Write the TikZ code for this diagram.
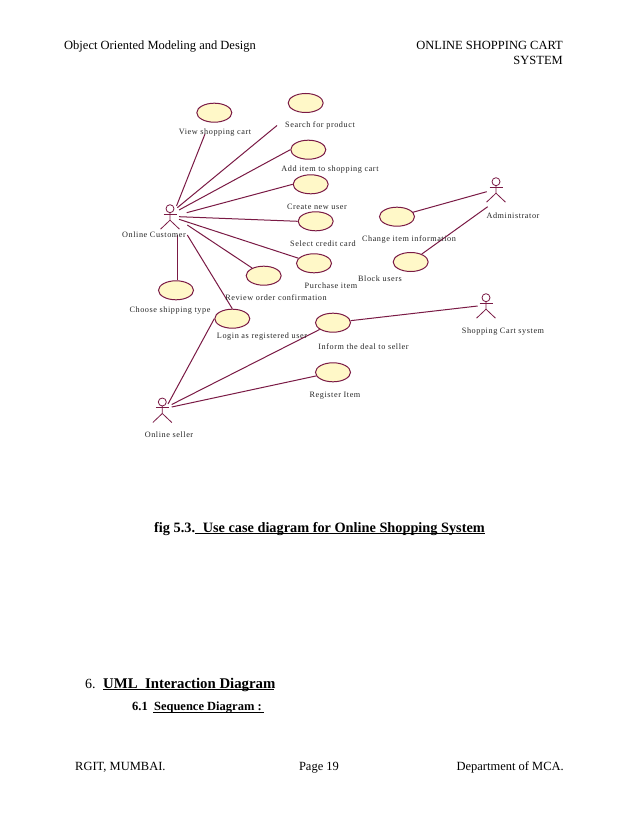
\documentclass[tikz,border=0pt]{standalone}
\usepackage{fontspec}
\setmainfont{Liberation Serif}
\newfontfamily\lblfont[LetterSpace=7]{Liberation Serif}
\usetikzlibrary{shapes.geometric}
\definecolor{umlline}{HTML}{7A1A45}
\definecolor{umlfill}{HTML}{FFF8C8}
\tikzset{
  usecase/.style={ellipse,draw=umlline,fill=umlfill,line width=1pt,minimum width=35pt,minimum height=19pt,inner sep=0pt},
  conn/.style={draw=umlline,line width=1pt},
  lbl/.style={font=\lblfont\fontsize{8.2}{9}\selectfont,text=black!85,inner sep=0pt,text height=5.5pt,text depth=1.5pt,yshift=-1.3pt},
  page/.style={font=\fontsize{12.5}{14}\selectfont,inner sep=0pt,text=black},
  rule/.style={draw=black,line width=0.8pt},
  headtext/.style={font=\bfseries\fontsize{14.3}{16}\selectfont,inner sep=0pt}
}
\newcommand{\umlactor}[3]{%
  \coordinate (#1) at (#2,#3);
  \draw[umlline,line width=0.8pt] (#2,#3) circle (4pt);
  \draw[umlline,line width=0.8pt] (#2,#3+4) -- (#2,#3+11.5) -- (#2-9.5,#3+20.5);
  \draw[umlline,line width=0.8pt] (#2,#3+11.5) -- (#2+9.5,#3+20.5);
  \draw[umlline,line width=0.8pt] (#2-6.5,#3+5.7) -- (#2+6.5,#3+5.7);
}
\begin{document}
\begin{tikzpicture}[x=1pt,y=-1pt]
\useasboundingbox (0,0) rectangle (638,826);
\fill[white] (0,0) rectangle (638,826);
% header / footer
\node[page,anchor=base west] (h1) at (64,49.7) {Object Oriented Modeling and Design};
\node[page,anchor=base east] (h2) at (563,49.7) {ONLINE SHOPPING CART};
\node[page,anchor=base east] (h3) at (563,65) {SYSTEM};
\node[page,anchor=base west] (f1) at (75,770.2) {RGIT, MUMBAI.};
\node[page,anchor=base] (f2) at (319,770.2) {Page 19};
\node[page,anchor=base east] (f3) at (564,770.2) {Department of MCA.};
% use cases
\node[usecase] (view) at (214.3,112.7) {};
\node[usecase] (search) at (305.7,103) {};
\node[usecase] (add) at (308.3,149.7) {};
\node[usecase] (create) at (310.7,184.3) {};
\node[usecase] (select) at (315.7,221.3) {};
\node[usecase] (purchase) at (314,263.3) {};
\node[usecase] (review) at (263.7,275.7) {};
\node[usecase] (choose) at (176,290.3) {};
\node[usecase] (login) at (232.3,318.7) {};
\node[usecase] (inform) at (333,322.7) {};
\node[usecase] (register) at (333,372.3) {};
\node[usecase] (change) at (397,216.7) {};
\node[usecase] (block) at (410.7,262) {};
% actors
\umlactor{cust}{170}{208.7}
\umlactor{admin}{496}{181.7}
\umlactor{cart}{486}{297.7}
\umlactor{seller}{162.3}{402}
% free connector ends
\coordinate (c1) at (176.5,206);
\coordinate (c2) at (177.3,207.7);
\coordinate (c3) at (179,210);
\coordinate (c4) at (186.7,212.7);
\coordinate (c5) at (179,216.7);
\coordinate (c6) at (179,219.3);
\coordinate (c7) at (187.3,225);
\coordinate (c8) at (187.3,235);
\coordinate (c9) at (177.3,235);
\coordinate (a1) at (486.7,191.7);
\coordinate (a2) at (487.7,206.7);
\coordinate (k1) at (477.7,306);
\coordinate (s1) at (168,404);
\coordinate (s2) at (171.7,404.5);
\coordinate (s3) at (171.7,407);
\coordinate (vt) at (205,134);
\coordinate (st) at (277,125.5);
% connectors
\draw[conn] (c1) -- (vt);
\draw[conn] (c2) -- (st);
\draw[conn] (c3) -- (add.west);
\draw[conn] (c4) -- (create.west);
\draw[conn] (c5) -- (select.west);
\draw[conn] (c6) -- (purchase);
\draw[conn] (c7) -- (review);
\draw[conn] (c8) -- (login.north);
\draw[conn] (c9) -- (c9 |- choose.north);
\draw[conn] (a1) -- (change);
\draw[conn] (a2) -- (block);
\draw[conn] (k1) -- (inform);
\draw[conn] (s1) -- (login.west);
\draw[conn] (s2) -- (inform);
\draw[conn] (s3) -- (register);
% labels
\node[lbl] (l1) at (215,131) {View shopping cart};
\node[lbl] (l2) at (320,124) {Search for product};
\node[lbl] (l3) at (330,168.5) {Add item to shopping cart};
\node[lbl] (l4) at (317,206) {Create new user};
\node[lbl] (l5) at (323,243) {Select credit card};
\node[lbl] (l6) at (331,285) {Purchase item};
\node[lbl] (l7) at (276,297) {Review order confirmation};
\node[lbl] (l8) at (170,309) {Choose shipping type};
\node[lbl] (l9) at (262,335) {Login as registered user};
\node[lbl] (l10) at (363.5,346) {Inform the deal to seller};
\node[lbl] (l11) at (335,394.5) {Register Item};
\node[lbl] (l12) at (409,238.5) {Change item information};
\node[lbl] (l13) at (380,278) {Block users};
\node[lbl] (l14) at (513,215) {Administrator};
\node[lbl] (l15) at (503,330) {Shopping Cart system};
\node[lbl] (l16) at (154,234) {Online Customer};
\node[lbl] (l17) at (169,434) {Online seller};
% captions
\node[headtext,anchor=base east] (cap2) at (485,532) {Use case diagram for Online Shopping System};
\node[headtext,anchor=base west] (cap) at (154,532) {fig 5.3.};
\draw[rule] (195,533.5) -- (485,533.5);
\node[page,anchor=base west,font=\fontsize{14}{16}\selectfont] (n6) at (85,688) {6.};
\node[headtext,anchor=base west,font=\bfseries\fontsize{14.8}{17}\selectfont] (t6) at (103,688) {UML\ \ Interaction Diagram};
\draw[rule] (103,689.5) -- (274,689.5);
\node[headtext,anchor=base west,font=\bfseries\fontsize{12.5}{14}\selectfont] (t61) at (132,710.5) {6.1\ \ Sequence Diagram :};
\draw[rule] (153,712) -- (264,712);
\end{tikzpicture}
\end{document}
